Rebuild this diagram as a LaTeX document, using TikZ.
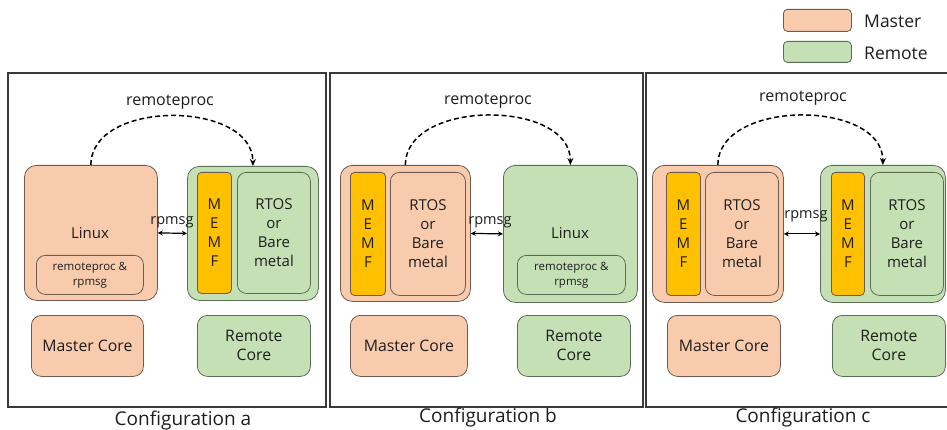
\documentclass[tikz,border=0pt]{standalone}
\usepackage{fontspec}
\setmainfont{Open Sans}
\usetikzlibrary{arrows.meta}
\definecolor{mfill}{HTML}{F8CBAD}
\definecolor{rfill}{HTML}{C5E0B4}
\definecolor{memfc}{HTML}{FFC000}
\definecolor{mline}{HTML}{6E5A50}
\definecolor{rline}{HTML}{5A6E55}
\definecolor{framec}{HTML}{3A3A3A}
\definecolor{txt}{HTML}{1E1E1E}
\begin{document}
\begin{tikzpicture}[x=1pt,y=-1pt,
  blk/.style={rectangle,inner sep=0pt,anchor=north west,align=center,text=txt,
    font=\fontsize{15}{19}\selectfont,line width=0.8pt},
  master/.style={blk,fill=mfill,draw=mline,rounded corners=12pt},
  remote/.style={blk,fill=rfill,draw=rline,rounded corners=12pt},
  innerm/.style={master,rounded corners=9pt},
  innerr/.style={remote,rounded corners=9pt},
  corem/.style={innerm,rounded corners=10pt,font=\fontsize{15.8}{19}\selectfont},
  corer/.style={innerr,rounded corners=10pt,font=\fontsize{15.8}{19}\selectfont},
  memf/.style={blk,fill=memfc,draw=mline,rounded corners=4pt},
  small/.style={font=\fontsize{11.5}{15}\selectfont},
  lbl/.style={text=txt,font=\fontsize{14.5}{19}\selectfont,inner sep=0pt},
  rlbl/.style={text=txt,font=\fontsize{16}{19}\selectfont,inner sep=0pt},
  leg/.style={text=txt,font=\fontsize{17.5}{20}\selectfont,inner sep=0pt,anchor=west},
  cfg/.style={text=txt,font=\fontsize{19}{22}\selectfont,inner sep=0pt},
  arcarrow/.style={line width=1.5pt,dash pattern=on 5pt off 3pt,-{Stealth[length=7pt,width=6pt]}},
  msg/.style={line width=1.2pt,{Stealth[length=5pt,width=5pt]}-{Stealth[length=5pt,width=5pt]}},
  fr/.style={draw=framec,line width=1.3pt}
]
\useasboundingbox (0,0) rectangle (947,430);
% frames
\draw[fr] (8,73) rectangle (326,407);
\draw[fr] (330,73) rectangle (643,407);
\draw[fr] (947,73) -- (646,73) -- (646,407) -- (947,407);

% legend
\node[master,rounded corners=4pt,minimum width=68,minimum height=22] (legM) at (783,9) {};
\node[remote,rounded corners=4pt,minimum width=68,minimum height=21] (legR) at (783,41) {};
\node[leg] (legMt) at (864,21) {Master};
\node[leg] (legRt) at (864,53) {Remote};

% ---------- Configuration a ----------
\node[master,minimum width=133,minimum height=135] (linA) at (24,165) {};
\node[lbl,font=\fontsize{15}{19}\selectfont] (linAt) at (90,233) {Linux};
\node[innerm,small,minimum width=107,minimum height=39] (rpA) at (36,255) {remoteproc \&\\rpmsg};
\node[remote,minimum width=131,minimum height=134] (grA) at (187,166) {};
\node[memf,minimum width=34,minimum height=121] (memfA) at (197,172) {M\\E\\M\\F};
\node[innerr,minimum width=73,minimum height=121] (rtosA) at (237,172) {RTOS\\or\\Bare\\metal};
\node[corem,minimum width=112,minimum height=61] (mcA) at (31,315) {Master Core};
\node[corer,minimum width=113,minimum height=61] (rcA) at (197,315) {Remote\\Core};
\node[rlbl] (rpLA) at (170,102) {remoteproc};
\draw[arcarrow] (linA.north) .. controls +(0,-66) and +(0,-66) .. (grA.north);
\draw[msg] (linA.east) -- (grA.west);
\node[lbl] (msgA) at (172,222) {rpmsg};
\node[cfg] (cfgA) at (183,421) {Configuration a};

% ---------- Configuration b ----------
\node[master,minimum width=130,minimum height=136] (mB) at (340,165) {};
\node[memf,minimum width=35,minimum height=123] (memfB) at (350,172) {M\\E\\M\\F};
\node[innerm,minimum width=75,minimum height=123] (rtosB) at (390,172) {RTOS\\or\\Bare\\metal};
\node[remote,minimum width=134,minimum height=137] (gB) at (503,165) {};
\node[lbl,font=\fontsize{15}{19}\selectfont] (linBt) at (570,233) {Linux};
\node[innerr,small,minimum width=108,minimum height=39] (rpB) at (517,255) {remoteproc \&\\rpmsg};
\node[corem,minimum width=117,minimum height=61] (mcB) at (350,315) {Master Core};
\node[corer,minimum width=113,minimum height=61] (rcB) at (517,315) {Remote\\Core};
\node[rlbl] (rpLB) at (488,101) {remoteproc};
\draw[arcarrow] (mB.north) .. controls +(0,-66) and +(0,-66) .. (gB.north);
\draw[msg] (mB.east) -- (gB.west);
\node[lbl] (msgB) at (490,222) {rpmsg};
\node[cfg] (cfgB) at (488,418) {Configuration b};

% ---------- Configuration c ----------
\node[master,minimum width=131,minimum height=137] (mC) at (652,165) {};
\node[memf,minimum width=34,minimum height=123] (memfC1) at (666,172) {M\\E\\M\\F};
\node[innerm,minimum width=73,minimum height=123] (rtosC1) at (705,172) {RTOS\\or\\Bare\\metal};
\node[remote,minimum width=125,minimum height=137] (gC) at (820,165) {};
\node[memf,minimum width=33,minimum height=123] (memfC2) at (831,172) {M\\E\\M\\F};
\node[innerr,minimum width=73,minimum height=123] (rtosC2) at (870,172) {RTOS\\or\\Bare\\metal};
\node[corem,minimum width=113,minimum height=61] (mcC) at (667,315) {Master Core};
\node[corer,minimum width=113,minimum height=61] (rcC) at (832,315) {Remote\\Core};
\node[rlbl] (rpLC) at (803,98) {remoteproc};
\draw[arcarrow] (mC.north) .. controls +(0,-66) and +(0,-66) .. (gC.north);
\draw[msg] (mC.east) -- (gC.west);
\node[lbl] (msgC) at (806,216) {rpmsg};
\node[cfg] (cfgC) at (803,418) {Configuration c};
\end{tikzpicture}
\end{document}
